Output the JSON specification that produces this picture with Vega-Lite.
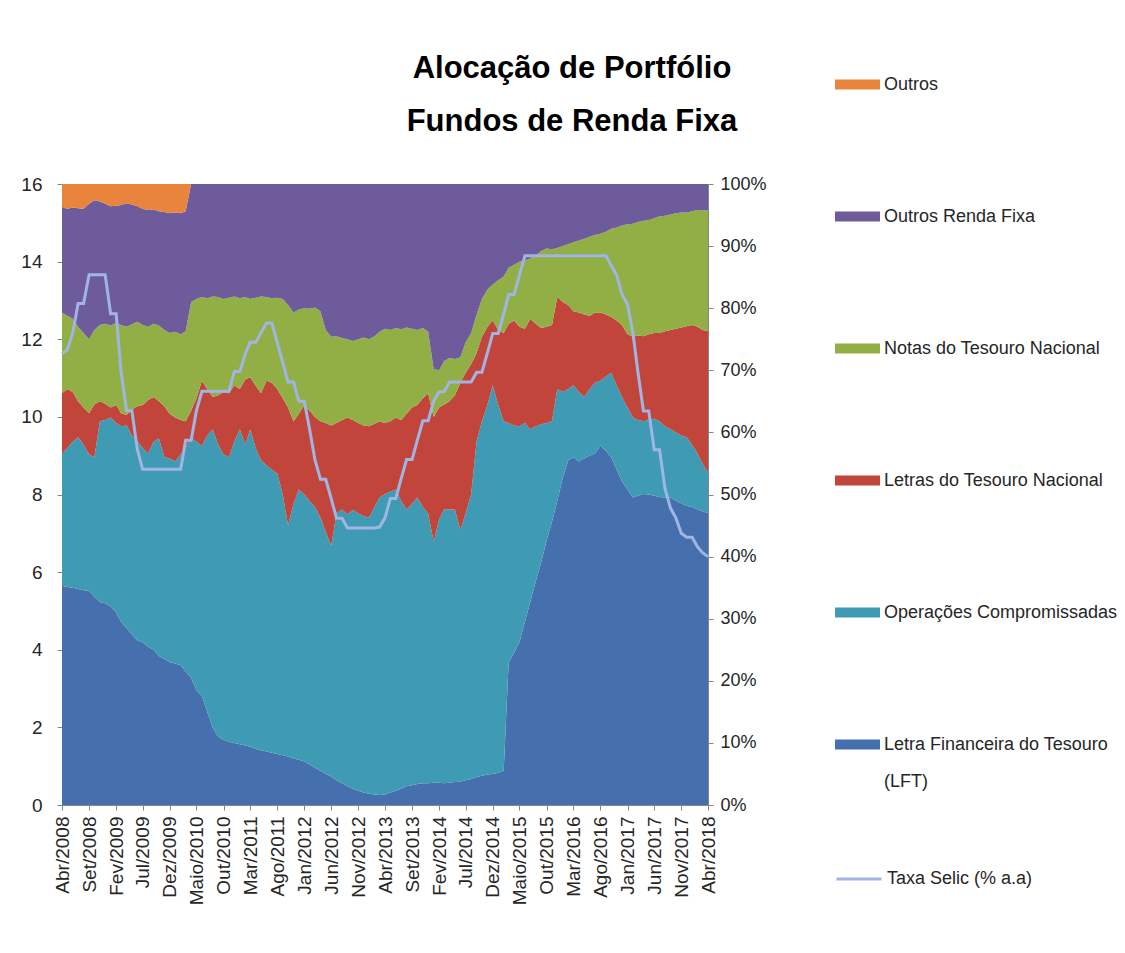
{
  "$schema": "https://vega.github.io/schema/vega-lite/v6.json",
  "width": 646,
  "height": 621,
  "autosize": {"type": "none"},
  "padding": {"left": 62, "top": 184, "right": 417, "bottom": 148},
  "background": "white",
  "config": {
    "font": "Liberation Sans",
    "view": {"stroke": "#8c8c8c", "strokeWidth": 1},
    "axis": {
      "labelFont": "Liberation Sans",
      "labelFontSize": 19,
      "labelColor": "#262626",
      "domainColor": "#868686",
      "tickColor": "#868686",
      "tickSize": 5,
      "grid": false,
      "title": null,
      "labelOverlap": false
    },
    "legend": {
      "labelFont": "Liberation Sans",
      "labelFontSize": 18,
      "labelColor": "#262626",
      "labelLimit": 400,
      "padding": 0
    }
  },
  "title": {
    "text": ["Alocação de Portfólio", "Fundos de Renda Fixa"],
    "font": "Liberation Sans",
    "fontSize": 31,
    "fontWeight": "bold",
    "color": "#000000",
    "lineHeight": 53,
    "anchor": "middle",
    "frame": "group",
    "dx": 187,
    "dy": 116,
    "offset": 40
  },
  "data": {
    "format": {"parse": {"m": "utc:'%Y-%m'"}},
    "values": [
      {"m":"2008-04","lft":35.3,"comp":21.3,"ltn":9.7,"ntn":13.0,"orf":17.0,"outros":3.7,"selic":11.63},
      {"m":"2008-05","lft":35.1,"comp":22.4,"ltn":9.5,"ntn":11.8,"orf":17.2,"outros":4.0,"selic":11.73},
      {"m":"2008-06","lft":35.0,"comp":23.5,"ltn":8.0,"ntn":11.8,"orf":17.9,"outros":3.8,"selic":12.17},
      {"m":"2008-07","lft":34.8,"comp":24.4,"ltn":5.8,"ntn":12.0,"orf":19.1,"outros":3.9,"selic":12.92},
      {"m":"2008-08","lft":34.6,"comp":23.4,"ltn":6.0,"ntn":12.0,"orf":20.0,"outros":4.0,"selic":12.92},
      {"m":"2008-09","lft":34.5,"comp":22.0,"ltn":6.6,"ntn":11.9,"orf":21.8,"outros":3.2,"selic":13.66},
      {"m":"2008-10","lft":33.5,"comp":22.5,"ltn":8.5,"ntn":12.0,"orf":20.9,"outros":2.6,"selic":13.66},
      {"m":"2008-11","lft":32.7,"comp":29.1,"ltn":3.2,"ntn":12.3,"orf":19.9,"outros":2.8,"selic":13.66},
      {"m":"2008-12","lft":32.5,"comp":29.5,"ltn":2.6,"ntn":12.9,"orf":19.3,"outros":3.2,"selic":13.66},
      {"m":"2009-01","lft":32.0,"comp":30.4,"ltn":1.6,"ntn":13.2,"orf":19.2,"outros":3.6,"selic":12.66},
      {"m":"2009-02","lft":31.0,"comp":30.5,"ltn":2.9,"ntn":13.2,"orf":18.9,"outros":3.5,"selic":12.66},
      {"m":"2009-03","lft":29.5,"comp":31.5,"ltn":2.1,"ntn":14.2,"orf":19.3,"outros":3.4,"selic":11.16},
      {"m":"2009-04","lft":28.5,"comp":32.6,"ltn":1.7,"ntn":14.2,"orf":19.9,"outros":3.1,"selic":10.16},
      {"m":"2009-05","lft":27.5,"comp":32.0,"ltn":4.2,"ntn":13.7,"orf":19.3,"outros":3.3,"selic":10.16},
      {"m":"2009-06","lft":26.5,"comp":32.1,"ltn":5.6,"ntn":13.6,"orf":18.6,"outros":3.6,"selic":9.16},
      {"m":"2009-07","lft":26.2,"comp":31.3,"ltn":6.9,"ntn":12.9,"orf":18.7,"outros":4.0,"selic":8.65},
      {"m":"2009-08","lft":25.5,"comp":31.1,"ltn":8.6,"ntn":11.8,"orf":18.8,"outros":4.2,"selic":8.65},
      {"m":"2009-09","lft":25.0,"comp":33.5,"ltn":7.2,"ntn":11.8,"orf":18.4,"outros":4.1,"selic":8.65},
      {"m":"2009-10","lft":24.0,"comp":35.0,"ltn":6.0,"ntn":12.2,"orf":18.4,"outros":4.4,"selic":8.65},
      {"m":"2009-11","lft":23.5,"comp":32.5,"ltn":8.2,"ntn":12.3,"orf":19.0,"outros":4.5,"selic":8.65},
      {"m":"2009-12","lft":23.0,"comp":32.8,"ltn":7.2,"ntn":13.0,"orf":19.3,"outros":4.7,"selic":8.65},
      {"m":"2010-01","lft":22.8,"comp":32.5,"ltn":7.1,"ntn":13.8,"orf":19.2,"outros":4.6,"selic":8.65},
      {"m":"2010-02","lft":22.5,"comp":34.0,"ltn":5.5,"ntn":13.8,"orf":19.5,"outros":4.7,"selic":8.65},
      {"m":"2010-03","lft":21.5,"comp":36.0,"ltn":4.3,"ntn":14.5,"orf":19.3,"outros":4.4,"selic":9.40},
      {"m":"2010-04","lft":20.5,"comp":38.7,"ltn":4.3,"ntn":17.5,"orf":19.0,"outros":0,"selic":9.40},
      {"m":"2010-05","lft":18.5,"comp":40.0,"ltn":7.0,"ntn":16.0,"orf":18.5,"outros":0,"selic":10.16},
      {"m":"2010-06","lft":17.5,"comp":40.3,"ltn":10.5,"ntn":13.5,"orf":18.2,"outros":0,"selic":10.66},
      {"m":"2010-07","lft":15.0,"comp":44.5,"ltn":7.5,"ntn":14.6,"orf":18.4,"outros":0,"selic":10.66},
      {"m":"2010-08","lft":12.5,"comp":48.0,"ltn":5.2,"ntn":16.2,"orf":18.1,"outros":0,"selic":10.66},
      {"m":"2010-09","lft":11.0,"comp":47.0,"ltn":8.0,"ntn":15.8,"orf":18.2,"outros":0,"selic":10.66},
      {"m":"2010-10","lft":10.5,"comp":46.0,"ltn":10.0,"ntn":15.0,"orf":18.5,"outros":0,"selic":10.66},
      {"m":"2010-11","lft":10.2,"comp":45.8,"ltn":10.3,"ntn":15.4,"orf":18.3,"outros":0,"selic":10.66},
      {"m":"2010-12","lft":10.0,"comp":48.5,"ltn":9.1,"ntn":14.3,"orf":18.1,"outros":0,"selic":11.17},
      {"m":"2011-01","lft":9.8,"comp":50.7,"ltn":6.5,"ntn":14.6,"orf":18.4,"outros":0,"selic":11.17},
      {"m":"2011-02","lft":9.6,"comp":48.4,"ltn":10.5,"ntn":13.3,"orf":18.2,"outros":0,"selic":11.62},
      {"m":"2011-03","lft":9.4,"comp":51.1,"ltn":8.4,"ntn":12.6,"orf":18.5,"outros":0,"selic":11.92},
      {"m":"2011-04","lft":9.0,"comp":48.5,"ltn":10.0,"ntn":14.2,"orf":18.3,"outros":0,"selic":11.92},
      {"m":"2011-05","lft":8.8,"comp":46.7,"ltn":10.8,"ntn":15.6,"orf":18.1,"outros":0,"selic":12.17},
      {"m":"2011-06","lft":8.6,"comp":46.1,"ltn":13.6,"ntn":13.5,"orf":18.2,"outros":0,"selic":12.42},
      {"m":"2011-07","lft":8.4,"comp":45.6,"ltn":14.0,"ntn":13.6,"orf":18.4,"outros":0,"selic":12.42},
      {"m":"2011-08","lft":8.2,"comp":45.2,"ltn":13.6,"ntn":14.7,"orf":18.3,"outros":0,"selic":11.91},
      {"m":"2011-09","lft":8.0,"comp":42.0,"ltn":15.5,"ntn":16.0,"orf":18.5,"outros":0,"selic":11.40},
      {"m":"2011-10","lft":7.8,"comp":37.2,"ltn":19.0,"ntn":16.5,"orf":19.5,"outros":0,"selic":10.90},
      {"m":"2011-11","lft":7.5,"comp":41.0,"ltn":13.3,"ntn":17.5,"orf":20.7,"outros":0,"selic":10.90},
      {"m":"2011-12","lft":7.3,"comp":43.5,"ltn":12.2,"ntn":16.8,"orf":20.2,"outros":0,"selic":10.40},
      {"m":"2012-01","lft":7.0,"comp":43.0,"ltn":14.4,"ntn":15.6,"orf":20.0,"outros":0,"selic":10.40},
      {"m":"2012-02","lft":6.5,"comp":42.4,"ltn":14.6,"ntn":16.4,"orf":20.1,"outros":0,"selic":9.65},
      {"m":"2012-03","lft":6.0,"comp":42.0,"ltn":14.5,"ntn":17.6,"orf":19.9,"outros":0,"selic":8.90},
      {"m":"2012-04","lft":5.5,"comp":40.8,"ltn":15.5,"ntn":17.7,"orf":20.5,"outros":0,"selic":8.39},
      {"m":"2012-05","lft":5.0,"comp":39.0,"ltn":17.5,"ntn":15.0,"orf":23.5,"outros":0,"selic":8.39},
      {"m":"2012-06","lft":4.6,"comp":37.1,"ltn":19.4,"ntn":14.3,"orf":24.6,"outros":0,"selic":7.89},
      {"m":"2012-07","lft":4.0,"comp":43.0,"ltn":14.5,"ntn":14.0,"orf":24.5,"outros":0,"selic":7.39},
      {"m":"2012-08","lft":3.5,"comp":44.1,"ltn":14.4,"ntn":13.2,"orf":24.8,"outros":0,"selic":7.39},
      {"m":"2012-09","lft":3.0,"comp":43.8,"ltn":15.6,"ntn":12.6,"orf":25.0,"outros":0,"selic":7.14},
      {"m":"2012-10","lft":2.6,"comp":44.9,"ltn":14.5,"ntn":12.7,"orf":25.3,"outros":0,"selic":7.14},
      {"m":"2012-11","lft":2.3,"comp":44.7,"ltn":14.5,"ntn":13.5,"orf":25.0,"outros":0,"selic":7.14},
      {"m":"2012-12","lft":2.0,"comp":44.5,"ltn":14.6,"ntn":14.2,"orf":24.7,"outros":0,"selic":7.14},
      {"m":"2013-01","lft":1.8,"comp":44.5,"ltn":14.7,"ntn":14.0,"orf":25.0,"outros":0,"selic":7.14},
      {"m":"2013-02","lft":1.7,"comp":46.3,"ltn":13.4,"ntn":14.1,"orf":24.5,"outros":0,"selic":7.14},
      {"m":"2013-03","lft":1.6,"comp":47.9,"ltn":12.3,"ntn":14.4,"orf":23.8,"outros":0,"selic":7.16},
      {"m":"2013-04","lft":1.7,"comp":48.4,"ltn":11.4,"ntn":15.2,"orf":23.3,"outros":0,"selic":7.40},
      {"m":"2013-05","lft":2.0,"comp":48.5,"ltn":11.3,"ntn":14.7,"orf":23.5,"outros":0,"selic":7.90},
      {"m":"2013-06","lft":2.3,"comp":48.5,"ltn":11.6,"ntn":14.4,"orf":23.2,"outros":0,"selic":7.90},
      {"m":"2013-07","lft":2.6,"comp":46.4,"ltn":13.0,"ntn":14.6,"orf":23.4,"outros":0,"selic":8.40},
      {"m":"2013-08","lft":3.0,"comp":44.6,"ltn":15.4,"ntn":13.9,"orf":23.1,"outros":0,"selic":8.90},
      {"m":"2013-09","lft":3.2,"comp":45.3,"ltn":15.5,"ntn":12.7,"orf":23.3,"outros":0,"selic":8.90},
      {"m":"2013-10","lft":3.4,"comp":46.1,"ltn":14.9,"ntn":12.1,"orf":23.5,"outros":0,"selic":9.40},
      {"m":"2013-11","lft":3.5,"comp":44.5,"ltn":17.5,"ntn":11.3,"orf":23.2,"outros":0,"selic":9.90},
      {"m":"2013-12","lft":3.5,"comp":43.4,"ltn":19.4,"ntn":9.9,"orf":23.8,"outros":0,"selic":9.90},
      {"m":"2014-01","lft":3.6,"comp":38.8,"ltn":20.1,"ntn":7.7,"orf":29.8,"outros":0,"selic":10.40},
      {"m":"2014-02","lft":3.6,"comp":42.4,"ltn":18.0,"ntn":6.0,"orf":30.0,"outros":0,"selic":10.65},
      {"m":"2014-03","lft":3.5,"comp":44.1,"ltn":16.9,"ntn":7.0,"orf":28.5,"outros":0,"selic":10.65},
      {"m":"2014-04","lft":3.6,"comp":44.0,"ltn":17.4,"ntn":7.0,"orf":28.0,"outros":0,"selic":10.90},
      {"m":"2014-05","lft":3.7,"comp":43.9,"ltn":18.4,"ntn":5.8,"orf":28.2,"outros":0,"selic":10.90},
      {"m":"2014-06","lft":3.8,"comp":40.5,"ltn":23.7,"ntn":4.1,"orf":27.9,"outros":0,"selic":10.90},
      {"m":"2014-07","lft":4.0,"comp":43.0,"ltn":22.6,"ntn":4.9,"orf":25.5,"outros":0,"selic":10.90},
      {"m":"2014-08","lft":4.2,"comp":45.9,"ltn":20.9,"ntn":5.0,"orf":24.0,"outros":0,"selic":10.90},
      {"m":"2014-09","lft":4.5,"comp":54.1,"ltn":14.2,"ntn":6.2,"orf":21.0,"outros":0,"selic":11.15},
      {"m":"2014-10","lft":4.7,"comp":57.1,"ltn":13.6,"ntn":6.1,"orf":18.5,"outros":0,"selic":11.15},
      {"m":"2014-11","lft":4.9,"comp":59.5,"ltn":12.6,"ntn":6.0,"orf":17.0,"outros":0,"selic":11.65},
      {"m":"2014-12","lft":5.0,"comp":62.6,"ltn":10.4,"ntn":5.8,"orf":16.2,"outros":0,"selic":12.15},
      {"m":"2015-01","lft":5.2,"comp":59.2,"ltn":12.1,"ntn":8.0,"orf":15.5,"outros":0,"selic":12.15},
      {"m":"2015-02","lft":5.5,"comp":56.3,"ltn":14.2,"ntn":9.1,"orf":14.9,"outros":0,"selic":12.65},
      {"m":"2015-03","lft":23.0,"comp":38.5,"ltn":16.0,"ntn":9.0,"orf":13.5,"outros":0,"selic":13.15},
      {"m":"2015-04","lft":24.5,"comp":36.6,"ltn":16.9,"ntn":9.0,"orf":13.0,"outros":0,"selic":13.15},
      {"m":"2015-05","lft":26.2,"comp":34.8,"ltn":16.0,"ntn":10.5,"orf":12.5,"outros":0,"selic":13.65},
      {"m":"2015-06","lft":29.5,"comp":32.0,"ltn":15.2,"ntn":11.0,"orf":12.3,"outros":0,"selic":14.15},
      {"m":"2015-07","lft":32.7,"comp":27.8,"ltn":17.8,"ntn":9.7,"orf":12.0,"outros":0,"selic":14.15},
      {"m":"2015-08","lft":36.0,"comp":25.0,"ltn":16.5,"ntn":11.0,"orf":11.5,"outros":0,"selic":14.15},
      {"m":"2015-09","lft":39.1,"comp":22.2,"ltn":15.5,"ntn":12.4,"orf":10.8,"outros":0,"selic":14.15},
      {"m":"2015-10","lft":42.5,"comp":19.0,"ltn":15.5,"ntn":12.6,"orf":10.4,"outros":0,"selic":14.15},
      {"m":"2015-11","lft":45.6,"comp":16.2,"ltn":15.5,"ntn":12.2,"orf":10.5,"outros":0,"selic":14.15},
      {"m":"2015-12","lft":49.0,"comp":18.0,"ltn":14.8,"ntn":7.9,"orf":10.3,"outros":0,"selic":14.15},
      {"m":"2016-01","lft":52.7,"comp":13.8,"ltn":14.5,"ntn":9.0,"orf":10.0,"outros":0,"selic":14.15},
      {"m":"2016-02","lft":55.5,"comp":11.5,"ltn":13.5,"ntn":9.8,"orf":9.7,"outros":0,"selic":14.15},
      {"m":"2016-03","lft":56.0,"comp":11.6,"ltn":11.9,"ntn":11.1,"orf":9.4,"outros":0,"selic":14.15},
      {"m":"2016-04","lft":55.3,"comp":11.2,"ltn":12.8,"ntn":11.6,"orf":9.1,"outros":0,"selic":14.15},
      {"m":"2016-05","lft":55.8,"comp":9.9,"ltn":13.3,"ntn":12.2,"orf":8.8,"outros":0,"selic":14.15},
      {"m":"2016-06","lft":56.3,"comp":10.7,"ltn":11.8,"ntn":12.7,"orf":8.5,"outros":0,"selic":14.15},
      {"m":"2016-07","lft":56.6,"comp":11.4,"ltn":11.3,"ntn":12.5,"orf":8.2,"outros":0,"selic":14.15},
      {"m":"2016-08","lft":57.9,"comp":10.4,"ltn":11.0,"ntn":12.7,"orf":8.0,"outros":0,"selic":14.15},
      {"m":"2016-09","lft":57.0,"comp":12.0,"ltn":10.0,"ntn":13.3,"orf":7.7,"outros":0,"selic":14.15},
      {"m":"2016-10","lft":56.0,"comp":13.6,"ltn":9.0,"ntn":14.2,"orf":7.2,"outros":0,"selic":13.90},
      {"m":"2016-11","lft":54.0,"comp":13.5,"ltn":10.5,"ntn":15.0,"orf":7.0,"outros":0,"selic":13.65},
      {"m":"2016-12","lft":52.1,"comp":13.6,"ltn":11.6,"ntn":16.0,"orf":6.7,"outros":0,"selic":13.15},
      {"m":"2017-01","lft":50.8,"comp":13.2,"ltn":11.8,"ntn":17.7,"orf":6.5,"outros":0,"selic":12.90},
      {"m":"2017-02","lft":49.5,"comp":12.9,"ltn":13.0,"ntn":18.2,"orf":6.4,"outros":0,"selic":12.15},
      {"m":"2017-03","lft":49.8,"comp":12.2,"ltn":13.6,"ntn":18.3,"orf":6.1,"outros":0,"selic":11.15},
      {"m":"2017-04","lft":50.1,"comp":11.7,"ltn":13.7,"ntn":18.6,"orf":5.9,"outros":0,"selic":10.15},
      {"m":"2017-05","lft":50.0,"comp":12.0,"ltn":13.8,"ntn":18.4,"orf":5.8,"outros":0,"selic":10.15},
      {"m":"2017-06","lft":49.8,"comp":12.4,"ltn":13.8,"ntn":18.5,"orf":5.5,"outros":0,"selic":9.15},
      {"m":"2017-07","lft":49.6,"comp":12.2,"ltn":14.2,"ntn":18.8,"orf":5.2,"outros":0,"selic":9.15},
      {"m":"2017-08","lft":49.5,"comp":11.5,"ltn":15.3,"ntn":18.6,"orf":5.1,"outros":0,"selic":8.15},
      {"m":"2017-09","lft":49.5,"comp":11.0,"ltn":16.0,"ntn":18.6,"orf":4.9,"outros":0,"selic":7.65},
      {"m":"2017-10","lft":49.0,"comp":11.0,"ltn":16.7,"ntn":18.6,"orf":4.7,"outros":0,"selic":7.40},
      {"m":"2017-11","lft":48.6,"comp":10.9,"ltn":17.4,"ntn":18.5,"orf":4.6,"outros":0,"selic":7.00},
      {"m":"2017-12","lft":48.2,"comp":11.0,"ltn":17.9,"ntn":18.3,"orf":4.6,"outros":0,"selic":6.90},
      {"m":"2018-01","lft":48.0,"comp":10.0,"ltn":19.3,"ntn":18.3,"orf":4.4,"outros":0,"selic":6.90},
      {"m":"2018-02","lft":47.6,"comp":9.0,"ltn":20.4,"ntn":18.8,"orf":4.2,"outros":0,"selic":6.65},
      {"m":"2018-03","lft":47.3,"comp":7.7,"ltn":21.5,"ntn":19.3,"orf":4.2,"outros":0,"selic":6.50},
      {"m":"2018-04","lft":47.0,"comp":6.5,"ltn":22.8,"ntn":19.4,"orf":4.3,"outros":0,"selic":6.40}
    ]
  },
  "encoding": {
    "x": {
      "field": "m",
      "type": "temporal",
      "scale": {"type": "utc", "domain": [{"year": 2008, "month": 4, "date": 1, "utc": true}, {"year": 2018, "month": 4, "date": 1, "utc": true}]},
      "axis": {
        "orient": "bottom",
        "labelAngle": 270,
        "labelPadding": 6,
        "labelFontSize": 19,
        "labelOverlap": false,
        "labelFlush": false,
        "labelBound": false,
        "values": [
          {"year": 2008, "month": 4, "date": 1, "utc": true},
          {"year": 2008, "month": 9, "date": 1, "utc": true},
          {"year": 2009, "month": 2, "date": 1, "utc": true},
          {"year": 2009, "month": 7, "date": 1, "utc": true},
          {"year": 2009, "month": 12, "date": 1, "utc": true},
          {"year": 2010, "month": 5, "date": 1, "utc": true},
          {"year": 2010, "month": 10, "date": 1, "utc": true},
          {"year": 2011, "month": 3, "date": 1, "utc": true},
          {"year": 2011, "month": 8, "date": 1, "utc": true},
          {"year": 2012, "month": 1, "date": 1, "utc": true},
          {"year": 2012, "month": 6, "date": 1, "utc": true},
          {"year": 2012, "month": 11, "date": 1, "utc": true},
          {"year": 2013, "month": 4, "date": 1, "utc": true},
          {"year": 2013, "month": 9, "date": 1, "utc": true},
          {"year": 2014, "month": 2, "date": 1, "utc": true},
          {"year": 2014, "month": 7, "date": 1, "utc": true},
          {"year": 2014, "month": 12, "date": 1, "utc": true},
          {"year": 2015, "month": 5, "date": 1, "utc": true},
          {"year": 2015, "month": 10, "date": 1, "utc": true},
          {"year": 2016, "month": 3, "date": 1, "utc": true},
          {"year": 2016, "month": 8, "date": 1, "utc": true},
          {"year": 2017, "month": 1, "date": 1, "utc": true},
          {"year": 2017, "month": 6, "date": 1, "utc": true},
          {"year": 2017, "month": 11, "date": 1, "utc": true},
          {"year": 2018, "month": 4, "date": 1, "utc": true}
        ],
        "labelExpr": "['Jan','Fev','Mar','Abr','Maio','Jun','Jul','Ago','Set','Out','Nov','Dez'][utcmonth(datum.value)] + '/' + utcyear(datum.value)"
      }
    }
  },
  "layer": [
    {
      "transform": [
        {"fold": ["lft", "comp", "ltn", "ntn", "orf", "outros"], "as": ["serie", "valor"]},
        {"calculate": "datum.serie == 'lft' ? 0 : datum.serie == 'comp' ? 1 : datum.serie == 'ltn' ? 2 : datum.serie == 'ntn' ? 3 : datum.serie == 'orf' ? 4 : 5", "as": "ordem"}
      ],
      "mark": {"type": "area", "interpolate": "linear"},
      "encoding": {
        "y": {
          "field": "valor",
          "type": "quantitative",
          "stack": "zero",
          "scale": {"domain": [0, 100], "nice": false},
          "axis": {
            "orient": "right",
            "values": [0, 10, 20, 30, 40, 50, 60, 70, 80, 90, 100],
            "labelExpr": "datum.value + '%'",
            "labelFontSize": 18,
            "labelPadding": 7
          }
        },
        "fill": {
          "field": "serie",
          "type": "nominal",
          "scale": {
            "domain": ["outros", "orf", "ntn", "ltn", "comp", "lft"],
            "range": ["#E8843C", "#6E5B9B", "#92AF45", "#C1453B", "#3F9AB3", "#4570AD"]
          },
          "legend": {
            "orient": "none",
            "legendX": 773,
            "legendY": -122,
            "title": null,
            "symbolType": "M-1,-0.22H1V0.22H-1Z",
            "symbolSize": 2025,
            "symbolStrokeWidth": 0,
            "labelOffset": 4,
            "rowPadding": 100,
            "labelExpr": "datum.value == 'lft' ? ['Letra Financeira do Tesouro', '(LFT)'] : datum.value == 'comp' ? 'Operações Compromissadas' : datum.value == 'ltn' ? 'Letras do Tesouro Nacional' : datum.value == 'ntn' ? 'Notas do Tesouro Nacional' : datum.value == 'orf' ? 'Outros Renda Fixa' : 'Outros'",
            "encode": {"labels": {"update": {"lineHeight": {"value": 37}}}}
          }
        },
        "order": {"field": "ordem", "type": "quantitative"}
      }
    },
    {
      "mark": {"type": "line", "strokeWidth": 3, "interpolate": "linear"},
      "encoding": {
        "y": {
          "field": "selic",
          "type": "quantitative",
          "scale": {"domain": [0, 16], "nice": false},
          "axis": {
            "orient": "left",
            "values": [0, 2, 4, 6, 8, 10, 12, 14, 16],
            "labelPadding": 15
          }
        },
        "stroke": {
          "datum": "Taxa Selic (% a.a)",
          "type": "nominal",
          "scale": {"range": ["#A0B5E3"]},
          "legend": {
            "orient": "none",
            "legendX": 773,
            "legendY": 671,
            "title": null,
            "symbolType": "stroke",
            "symbolSize": 2025,
            "symbolStrokeWidth": 3,
            "labelOffset": 4
          }
        }
      }
    }
  ],
  "resolve": {"scale": {"y": "independent", "fill": "independent", "stroke": "independent"}}
}
